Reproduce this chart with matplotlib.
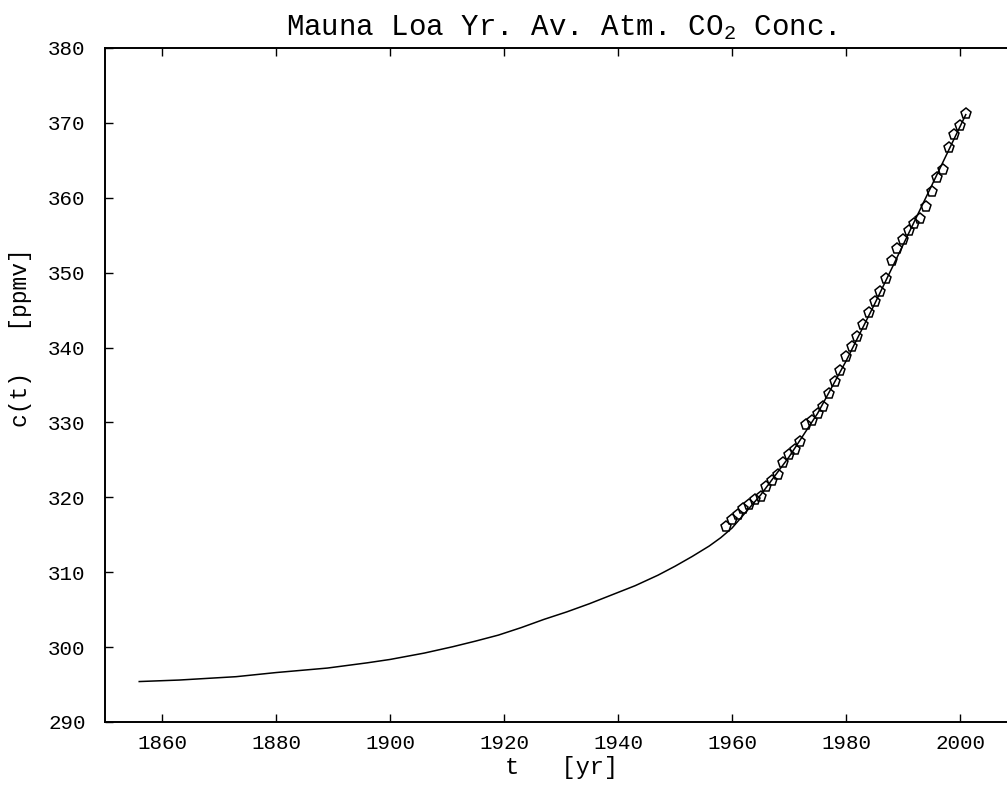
import matplotlib
matplotlib.use("Agg")
import matplotlib.pyplot as plt

# Mauna Loa annual mean CO2 (ppmv)
obs_years = [1959, 1960, 1961, 1962, 1963, 1964, 1965, 1966, 1967, 1968,
             1969, 1970, 1971, 1972, 1973, 1974, 1975, 1976, 1977, 1978,
             1979, 1980, 1981, 1982, 1983, 1984, 1985, 1986, 1987, 1988,
             1989, 1990, 1991, 1992, 1993, 1994, 1995, 1996, 1997, 1998,
             1999, 2000, 2001]
obs_co2 = [315.98, 316.91, 317.64, 318.45, 318.99, 319.62, 320.04, 321.38,
           322.16, 323.04, 324.62, 325.68, 326.32, 327.45, 329.68, 330.18,
           331.11, 332.04, 333.83, 335.40, 336.84, 338.75, 340.11, 341.45,
           343.05, 344.65, 346.12, 347.42, 349.19, 351.57, 353.12, 354.39,
           355.61, 356.45, 357.10, 358.83, 360.82, 362.61, 363.73, 366.70,
           368.38, 369.55, 371.14]

# Model curve c(t)
fit_years = [1856, 1863, 1873, 1880, 1889, 1896, 1900, 1906, 1911, 1915,
             1919, 1923, 1927, 1931, 1935, 1939, 1943, 1947, 1950, 1953,
             1956, 1958, 1960, 1965, 1970, 1975, 1980, 1985, 1990, 1995,
             2001]
fit_co2 = [295.4, 295.6, 296.05, 296.6, 297.2, 297.9, 298.35, 299.2, 300.05,
           300.8, 301.6, 302.6, 303.7, 304.7, 305.8, 307.0, 308.2, 309.6,
           310.8, 312.1, 313.5, 314.6, 315.9, 320.3, 325.4, 331.2, 338.2,
           345.8, 353.7, 361.6, 371.1]

x_ticks = [1860, 1880, 1900, 1920, 1940, 1960, 1980, 2000]
y_ticks = [290, 300, 310, 320, 330, 340, 350, 360, 370, 380]

plt.rcParams["font.family"] = ["Liberation Mono", "DejaVu Sans Mono"]
plt.rcParams["mathtext.fontset"] = "custom"
plt.rcParams["mathtext.rm"] = "Liberation Mono"
plt.rcParams["mathtext.it"] = "Liberation Mono"

fig = plt.figure(figsize=(10.07, 7.92), dpi=100)
ax = fig.add_axes([0.1043, 0.0884, 0.9057, 0.851])

ax.plot(fit_years, fit_co2, color="black", lw=1.1)
ax.plot(obs_years, obs_co2, linestyle="none", marker="p", markersize=8,
        markerfacecolor="none", markeredgecolor="black", markeredgewidth=1.1)

ax.set_xlim(1850, 2010)
ax.set_ylim(290, 380)
ax.set_xticks(x_ticks)
ax.set_yticks(y_ticks)
ax.tick_params(direction="in", length=5.5, width=1.0, top=True, right=True,
               labelsize=15, color="black")
ax.tick_params(axis="x", pad=9)
ax.tick_params(axis="y", pad=14)
for s in ax.spines.values():
    s.set_linewidth(1.4)

ax.set_title("Mauna Loa Yr. Av. Atm. CO$_2$ Conc.", fontsize=21, pad=9)
ax.set_xlabel("t   [yr]", fontsize=17, labelpad=2)
ax.set_ylabel("c(t)   [ppmv]", fontsize=16.5)
ax.yaxis.set_label_coords(-0.08, 0.57)

fig.savefig("out.png", dpi=100)
